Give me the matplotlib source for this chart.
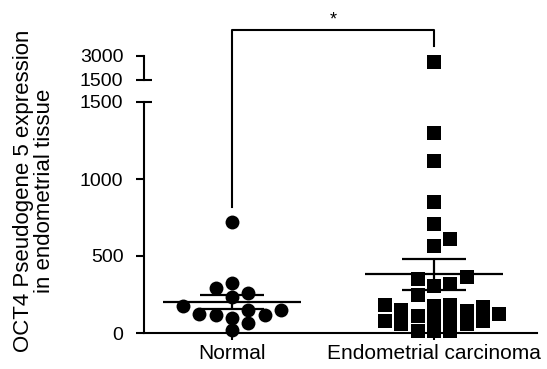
import numpy as np
import matplotlib
matplotlib.use("Agg")
import matplotlib.pyplot as plt

plt.rcParams["font.family"] = ["Liberation Sans", "DejaVu Sans"]

# ─── DATA ─────────────────────────────────────────────────────────────────────
GROUPS = ["Normal", "Endometrial carcinoma"]

normal = [720, 325, 290, 260, 235, 175, 150, 150, 120, 100, 115, 125, 65, 20]

carcinoma = [2620, 1300, 1120, 850, 710, 610, 565, 365, 350, 320, 305, 250,
             180, 80, 170, 60, 140, 10, 125, 10, 150, 10, 175, 60, 180, 80,
             100, 110, 95]

Y_LOW_TICKS = [0, 500, 1000, 1500]
Y_TOP_TICKS = [1500, 3000]
YLABEL = "OCT4 Pseudogene 5 expression\nin endometrial tissue"

# ─── LAYOUT ───────────────────────────────────────────────────────────────────
W, H = 547, 369
fig = plt.figure(figsize=(W / 100, H / 100), dpi=100)
left, right = 144 / W, 537 / W
ax_low = fig.add_axes([left, (H - 333) / H, right - left, (333 - 102) / H])
ax_top = fig.add_axes([left, (H - 80) / H, right - left, (80 - 56) / H])

XLIM = (-0.436, 1.51)
for ax in (ax_low, ax_top):
    ax.set_xlim(*XLIM)
    ax.patch.set_alpha(0)
    for s in ("top", "right"):
        ax.spines[s].set_visible(False)
    ax.spines["left"].set_linewidth(1.5)
    ax.tick_params(axis="y", direction="out", length=5.8, width=1.5,
                   labelsize=14, pad=9)
ax_top.spines["bottom"].set_visible(False)
ax_low.spines["bottom"].set_linewidth(1.5)
ax_low.set_ylim(0, 1500)
ax_top.set_ylim(1500, 3000)
ax_low.set_yticks(Y_LOW_TICKS)
ax_top.set_yticks(Y_TOP_TICKS)
ax_top.set_xticks([])
ax_low.set_xticks([0, 1], GROUPS)
ax_low.tick_params(axis="x", direction="out", length=5, width=1.5,
                   labelsize=15, pad=3)

# inner half of the break caps
cap = 8 / (W * (right - left))
ax_low.plot([0, cap], [1500, 1500], transform=ax_low.get_yaxis_transform(),
            color="k", lw=1.5, clip_on=False, solid_capstyle="butt")
ax_top.plot([0, cap], [1500, 1500], transform=ax_top.get_yaxis_transform(),
            color="k", lw=1.5, clip_on=False, solid_capstyle="butt")


# ─── SWARM ────────────────────────────────────────────────────────────────────
def swarm_x(values, center, ax, d_px=12, step_px=16.3):
    """Greedy beeswarm (markers may touch/overlap a little, like Prism)."""
    values = np.asarray(values, float)
    px_per_x = ax.transData.transform((1, 0))[0] - ax.transData.transform((0, 0))[0]
    ys = ax.transData.transform(np.column_stack([np.zeros_like(values), values]))[:, 1]
    xs = np.full(len(values), float(center))
    placed = []
    for i in np.argsort(values):
        for k in [0, 1, -1, 2, -2, 3, -3, 4, -4, 5, -5]:
            off = k * step_px
            ok = all((off - px) ** 2 + (ys[i] - py) ** 2 >= d_px ** 2 for px, py in placed)
            if ok:
                placed.append((off, ys[i]))
                xs[i] = center + off / px_per_x
                break
    return xs


for gi, (vals, marker) in enumerate([(normal, "o"), (carcinoma, "s")]):
    vals = np.asarray(vals, float)
    low = vals[vals <= 1500]
    high = vals[vals > 1500]
    xs = swarm_x(low, gi, ax_low)
    ax_low.scatter(xs, low, s=100 if marker == "o" else 92, marker=marker,
                   color="k", linewidths=0, clip_on=False, zorder=3)
    if len(high):
        ax_top.scatter(np.full(len(high), gi), high, s=92, marker=marker,
                       color="k", linewidths=0, clip_on=False, zorder=3)
    m = vals.mean()
    sem = vals.std(ddof=1) / np.sqrt(len(vals))
    ax_low.hlines(m, gi - 0.34, gi + 0.34, color="k", lw=1.6, zorder=4)
    ax_low.hlines([m - sem, m + sem], gi - 0.16, gi + 0.16, color="k", lw=1.6, zorder=4)
    ax_low.vlines(gi, m - sem, m + sem, color="k", lw=1.6, zorder=4)

# ─── SIGNIFICANCE BRACKET ─────────────────────────────────────────────────────
y_bar = 1970
ax_low.plot([0, 0, 1, 1], [max(normal) + 100, y_bar, y_bar, 1865],
            color="k", lw=1.5, clip_on=False)
ax_low.text(0.5, y_bar + 10, "*", ha="center", va="bottom", fontsize=13)

fig.text(34 / W, 1 - 191 / H, YLABEL, rotation=90, ha="center", va="center",
         multialignment="center", fontsize=16, linespacing=1.05)

fig.savefig("out.png", dpi=100)
